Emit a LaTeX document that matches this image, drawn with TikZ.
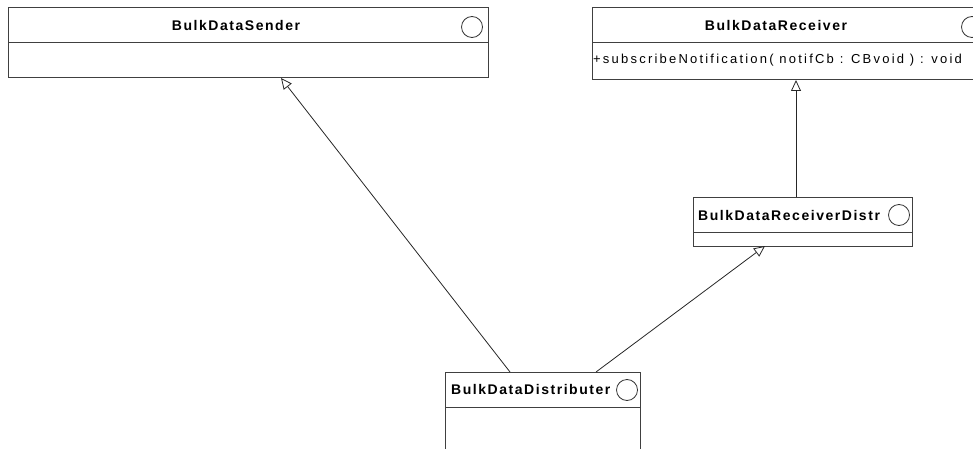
\documentclass[tikz,border=0pt]{standalone}
\usepackage{fontspec}
\setmainfont{Liberation Sans}
\newfontfamily\titlefont[LetterSpace=11]{Liberation Sans Bold}
\newfontfamily\opfont[LetterSpace=17]{Liberation Sans}
\usetikzlibrary{arrows.meta}
\begin{document}
\begin{tikzpicture}[x=1pt,y=-1pt,
  box/.style={draw=black!75,line width=1pt},
  sep/.style={draw=black!75,line width=1pt},
  icon/.style={draw=black!80,line width=0.8pt,circle,minimum size=21pt,inner sep=0pt},
  ttl/.style={font=\titlefont\fontsize{14}{16}\selectfont,inner sep=0pt},
  op/.style={font=\opfont\fontsize{13}{15}\selectfont,inner sep=0pt,anchor=west},
  gen/.style={draw=black!85,line width=0.8pt,-{Triangle[open,length=11pt,width=10pt]}}]
\useasboundingbox (0,0) rectangle (973,449);
% BulkDataSender
\draw[box] (8,8) rectangle (488,78);
\draw[sep] (8,43) -- (488,43);
\node[ttl] (sendt) at (236,25) {BulkDataSender};
\node[icon] (sendi) at (472,27) {};
\coordinate (sendb) at (281,78);
% BulkDataReceiver
\draw[box] (592,8) -- (980,8) (592,8) -- (592,80) -- (980,80);
\draw[sep] (592,43) -- (980,43);
\node[ttl] (recvt) at (776,25) {BulkDataReceiver};
\node[icon] (recvi) at (972,27) {};
\node[op] (recvop) at (593,60) {+subscribeNotification( notifCb : CBvoid ) : void};
\coordinate (recvb) at (796,80);
% BulkDataReceiverDistr
\draw[box] (693,197) rectangle (912,246);
\draw[sep] (693,232) -- (912,232);
\node[ttl,anchor=west] (rdt) at (698,215) {BulkDataReceiverDistr};
\node[icon] (rdi) at (899,215) {};
\coordinate (rdtop) at (796,197);
\coordinate (rdb) at (765,246);
% BulkDataDistributer
\draw[box] (445,460) -- (445,372) -- (640,372) -- (640,460);
\draw[sep] (445,407) -- (640,407);
\node[ttl,anchor=west] (ddt) at (451,389) {BulkDataDistributer};
\node[icon] (ddi) at (627,390) {};
\coordinate (dda) at (510,372);
\coordinate (ddb) at (596,372);
% connectors
\draw[gen] (dda) -- (sendb);
\draw[gen] (rdtop) -- (recvb);
\draw[gen] (ddb) -- (rdb);
\end{tikzpicture}
\end{document}
